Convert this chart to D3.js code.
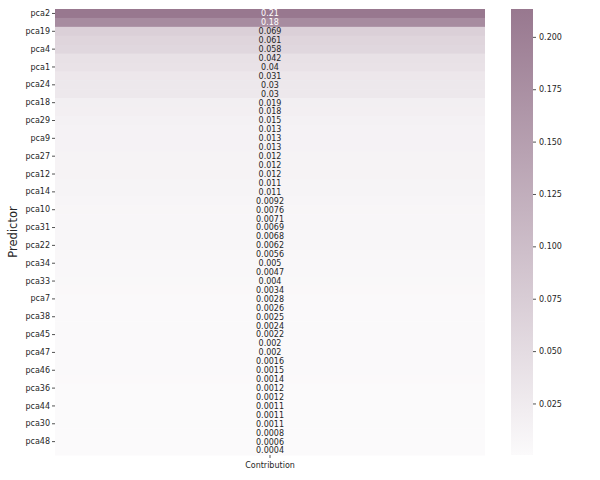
<!DOCTYPE html>
<html>
<head>
<meta charset="utf-8">
<script src="https://cdn.jsdelivr.net/npm/d3@7"></script>
<style>
  body { margin: 0; background: #fff; }
  svg text { font-family: "DejaVu Sans", sans-serif; }
</style>
</head>
<body>
<svg class="graph" width="600" height="480"></svg>
<script>
var predictors = ['pca2', 'r1', 'pca19', 'r3', 'pca4', 'r5', 'pca1', 'r7', 'pca24', 'r9',
  'pca18', 'r11', 'pca29', 'r13', 'pca9', 'r15', 'pca27', 'r17', 'pca12', 'r19',
  'pca14', 'r21', 'pca10', 'r23', 'pca31', 'r25', 'pca22', 'r27', 'pca34', 'r29',
  'pca33', 'r31', 'pca7', 'r33', 'pca38', 'r35', 'pca45', 'r37', 'pca47', 'r39',
  'pca46', 'r41', 'pca36', 'r43', 'pca44', 'r45', 'pca30', 'r47', 'pca48', 'r49']

var contribution = [0.2133, 0.18, 0.069, 0.061, 0.058, 0.042, 0.04, 0.031, 0.03, 0.03,
  0.019, 0.018, 0.015, 0.013, 0.013, 0.013, 0.012, 0.012, 0.012, 0.011,
  0.011, 0.0092, 0.0076, 0.0071, 0.0069, 0.0068, 0.0062, 0.0056, 0.005, 0.0047,
  0.004, 0.0034, 0.0028, 0.0026, 0.0025, 0.0024, 0.0022, 0.002, 0.002, 0.0016,
  0.0015, 0.0014, 0.0012, 0.0012, 0.0011, 0.0011, 0.0011, 0.0008, 0.0006, 0.0004]

var columns = ['Contribution']
var cbarTicks = [0.025, 0.05, 0.075, 0.1, 0.125, 0.15, 0.175, 0.2]

var svg = d3.select('.graph')
var plotTop = 9, plotBottom = 455, plotLeft = 55, plotRight = 485

var rows = predictors.map(function (p, i) { return { key: i, name: p, value: contribution[i] } })

var y = d3.scaleBand().domain(d3.range(rows.length)).range([plotTop, plotBottom])
var x = d3.scaleBand().domain(columns).range([plotLeft, plotRight])
var color = d3.scaleLinear()
            .domain(d3.extent(contribution))
            .range(['#fbfafb', '#98788f'])
            .interpolate(d3.interpolateRgb)

var heat = svg.append('g')

heat.selectAll('rect')
.data(rows)
.enter().append('rect')
.attr('x', x('Contribution'))
.attr('y', function (d) { return y(d.key) })
.attr('width', x.bandwidth())
.attr('height', y.bandwidth() + 0.5)
.attr('fill', function (d) { return color(d.value) })

heat.selectAll('text')
.data(rows)
.enter().append('text')
.attr('x', x('Contribution') + x.bandwidth() / 2)
.attr('y', function (d) { return y(d.key) + y.bandwidth() / 2 })
.attr('dy', '0.36em')
.attr('text-anchor', 'middle')
.attr('font-size', 8)
.attr('fill', function (d) { return d.value > 0.12 ? '#fff' : '#262626' })
.text(function (d) { return d3.format('.2~g')(d.value) })

// y axis, every other row labelled like seaborn does
var yAxis = d3.axisLeft(y)
            .tickValues(d3.range(0, rows.length, 2))
            .tickFormat(function (i) { return predictors[i] })
            .tickSize(3)
            .tickPadding(2)

svg.append('g')
.attr('transform', 'translate(' + plotLeft + ',0)')
.call(yAxis)
.call(function (g) {
  g.select('.domain').remove()
  g.selectAll('text').attr('font-size', 8).attr('fill', '#262626').attr('font-family', 'DejaVu Sans')
  g.selectAll('line').attr('stroke', '#262626').attr('stroke-width', 0.8)
})

var xAxis = d3.axisBottom(x).tickSize(3).tickPadding(4)

svg.append('g')
.attr('transform', 'translate(0,' + plotBottom + ')')
.call(xAxis)
.call(function (g) {
  g.select('.domain').remove()
  g.selectAll('text').attr('font-size', 8).attr('fill', '#262626').attr('font-family', 'DejaVu Sans')
  g.selectAll('line').attr('stroke', '#262626').attr('stroke-width', 0.8)
})

svg.append('text')
.attr('transform', 'translate(17,' + (plotTop + plotBottom) / 2 + ') rotate(-90)')
.attr('text-anchor', 'middle')
.attr('font-size', 11.5)
.attr('fill', '#262626')
.text('Predictor')

// colorbar
var cbX = 511, cbW = 22
var cy = d3.scaleLinear().domain(d3.extent(contribution)).range([plotBottom, plotTop])

var defs = svg.append('defs')
var grad = defs.append('linearGradient')
           .attr('id', 'cbar')
           .attr('x1', 0).attr('y1', 1).attr('x2', 0).attr('y2', 0)
grad.append('stop').attr('offset', 0).attr('stop-color', color.range()[0])
grad.append('stop').attr('offset', 1).attr('stop-color', color.range()[1])

svg.append('rect')
.attr('x', cbX)
.attr('y', plotTop)
.attr('width', cbW)
.attr('height', plotBottom - plotTop)
.attr('fill', 'url(#cbar)')

svg.append('g')
.attr('transform', 'translate(' + (cbX + cbW) + ',0)')
.call(d3.axisRight(cy).tickValues(cbarTicks).tickFormat(d3.format('.3f')).tickSize(3).tickPadding(3))
.call(function (g) {
  g.select('.domain').remove()
  g.selectAll('text').attr('font-size', 8).attr('fill', '#262626').attr('font-family', 'DejaVu Sans')
  g.selectAll('line').attr('stroke', '#262626').attr('stroke-width', 0.8)
})
</script>
</body>
</html>
